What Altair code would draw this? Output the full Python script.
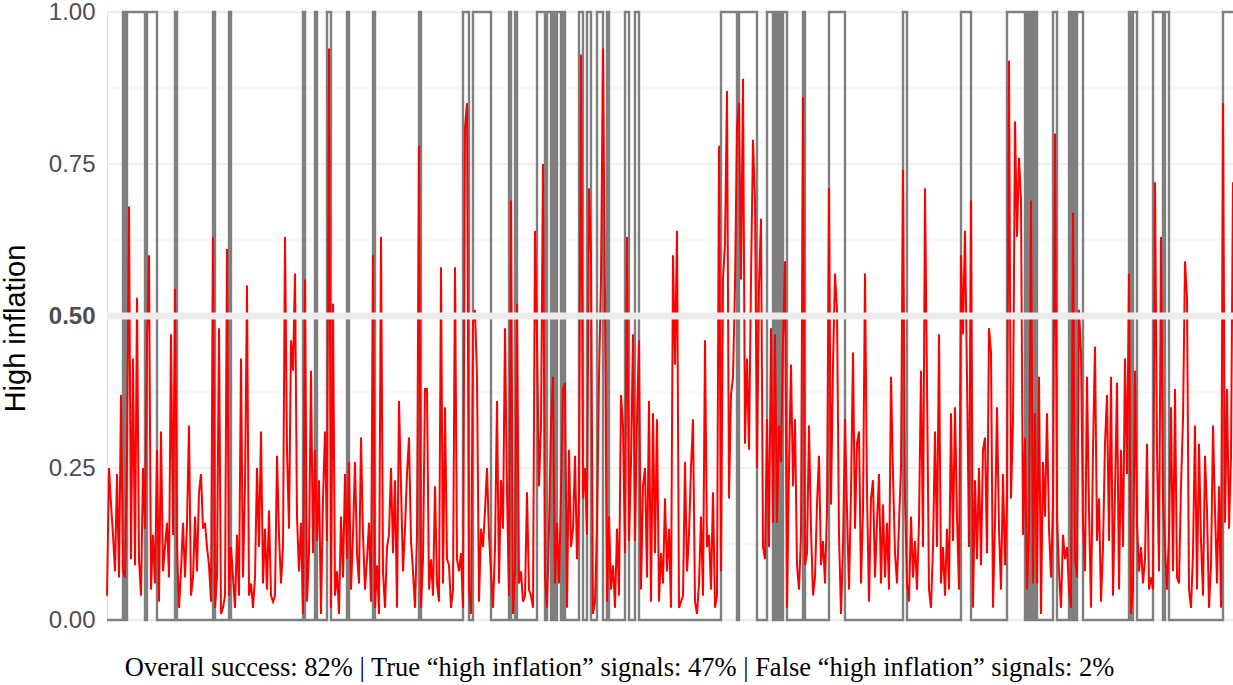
import altair as alt
import pandas as pd

# Predicted probability of "high inflation" (red line), read left to right
red_1 = [0.04,0.25,0.19,0.14,0.08,0.24,0.07,0.37,0.08,0.07,
         0.27,0.68,0.10,0.43,0.09,0.53,0.10,0.04,0.25,0.15,
         0.46,0.60,0.05,0.14,0.06,0.28,0.03,0.31,0.08,0.12,
         0.16,0.07,0.47,0.14,0.545,0.12,0.02,0.08,0.16,0.07,
         0.16,0.32,0.04,0.07,0.17,0.08,0.21,0.24,0.15,0.16,
         0.12,0.09,0.03,0.63,0.02,0.07,0.48,0.01,0.02,0.04,
         0.61,0.04,0.12,0.07,0.02,0.14,0.04,0.43,0.07,0.22,
         0.55,0.04,0.06,0.02,0.07,0.25,0.12,0.31,0.06,0.15]
red_2 = [0.05,0.18,0.04,0.03,0.04,0.27,0.14,0.06,0.12,0.63,
         0.28,0.15,0.46,0.41,0.57,0.17,0.08,0.16,0.01,0.56,
         0.03,0.11,0.41,0.11,0.28,0.13,0.23,0.01,0.20,0.31,
         0.13,0.94,0.02,0.52,0.04,0.08,0.01,0.17,0.07,0.24,
         0.10,0.26,0.05,0.14,0.26,0.11,0.06,0.30,0.14,0.05,
         0.10,0.16,0.03,0.60,0.02,0.09,0.01,0.63,0.08,0.02,
         0.12,0.14,0.25,0.11,0.23,0.02,0.36,0.22,0.08,0.15,
         0.24,0.30,0.13,0.08,0.02,0.14,0.78,0.02,0.10,0.38]
red_3 = [0.38,0.05,0.10,0.04,0.22,0.06,0.03,0.58,0.06,0.35,
         0.10,0.09,0.02,0.05,0.58,0.10,0.08,0.11,0.02,0.81,
         0.85,0.05,0.01,0.49,0.51,0.40,0.03,0.15,0.12,0.18,
         0.25,0.14,0.08,0.02,0.12,0.36,0.06,0.23,0.15,0.48,
         0.21,0.04,0.69,0.01,0.08,0.52,0.06,0.08,0.03,0.04,
         0.21,0.05,0.04,0.02,0.64,0.46,0.22,0.32,0.75,0.07,
         0.02,0.15,0.32,0.40,0.06,0.16,0.06,0.21,0.38,0.39,
         0.02,0.28,0.12,0.15,0.27,0.10,0.20,0.93,0.20,0.25]
red_4 = [0.14,0.71,0.60,0.01,0.03,0.15,0.40,0.56,0.94,0.52,
         0.03,0.17,0.05,0.09,0.02,0.15,0.04,0.37,0.32,0.11,
         0.63,0.13,0.26,0.47,0.13,0.33,0.46,0.05,0.22,0.25,
         0.07,0.36,0.03,0.34,0.11,0.33,0.03,0.11,0.06,0.20,
         0.08,0.15,0.02,0.60,0.42,0.64,0.02,0.03,0.04,0.26,
         0.08,0.14,0.25,0.33,0.03,0.01,0.06,0.17,0.04,0.46,
         0.12,0.14,0.05,0.21,0.02,0.04,0.78,0.08,0.56,0.62,
         0.87,0.20,0.37,0.40,0.55,0.81,0.85,0.56,0.89,0.29]
red_5 = [0.43,0.28,0.56,0.79,0.69,0.25,0.55,0.66,0.12,0.10,
         0.33,0.12,0.48,0.16,0.47,0.16,0.32,0.26,0.46,0.59,
         0.02,0.25,0.42,0.22,0.33,0.09,0.05,0.14,0.86,0.09,
         0.11,0.32,0.15,0.04,0.07,0.19,0.27,0.09,0.13,0.06,
         0.18,0.71,0.19,0.42,0.57,0.51,0.14,0.01,0.12,0.33,
         0.18,0.05,0.21,0.44,0.15,0.29,0.31,0.06,0.18,0.57,
         0.21,0.03,0.20,0.23,0.07,0.16,0.24,0.06,0.19,0.07,
         0.16,0.05,0.40,0.24,0.11,0.06,0.16,0.25,0.74,0.20]
red_6 = [0.06,0.03,0.17,0.07,0.13,0.05,0.16,0.41,0.12,0.71,
         0.39,0.05,0.02,0.12,0.31,0.12,0.47,0.06,0.12,0.04,
         0.15,0.05,0.34,0.13,0.35,0.17,0.05,0.60,0.47,0.64,
         0.40,0.12,0.69,0.02,0.23,0.10,0.25,0.09,0.28,0.30,
         0.11,0.48,0.44,0.02,0.16,0.35,0.15,0.05,0.24,0.09,
         0.20,0.92,0.20,0.33,0.82,0.63,0.76,0.69,0.14,0.30,
         0.05,0.15,0.69,0.06,0.34,0.06,0.40,0.01,0.26,0.17,
         0.34,0.15,0.07,0.19,0.80,0.17,0.08,0.02,0.14,0.10]
red_7 = [0.12,0.05,0.02,0.67,0.10,0.07,0.51,0.44,0.16,0.08,
         0.40,0.18,0.02,0.28,0.45,0.13,0.20,0.03,0.12,0.29,
         0.37,0.13,0.40,0.04,0.21,0.39,0.05,0.28,0.12,0.43,
         0.24,0.57,0.01,0.05,0.41,0.16,0.08,0.12,0.06,0.10,
         0.29,0.05,0.07,0.05,0.72,0.28,0.08,0.63,0.20,0.12,
         0.05,0.14,0.35,0.08,0.38,0.07,0.06,0.22,0.33,0.59,
         0.53,0.05,0.02,0.11,0.32,0.05,0.29,0.13,0.04,0.27,
         0.18,0.02,0.09,0.32,0.18,0.06,0.22,0.02,0.85,0.16,
         0.38,0.15,0.27,0.72]

# Actual high-inflation periods (gray 0/1 line): index ranges [start, end)
gray_on_start = [8, 10, 20, 34, 53, 61, 98, 104, 110, 120, 133, 156, 178, 183,
                 201, 204, 215, 220, 223, 225, 228, 236, 240, 245, 250, 259, 264,
                 307, 316, 330, 334, 336, 338, 348, 361, 398, 427, 450, 460, 462,
                 464, 473, 481, 483, 485, 511, 513, 523, 529, 558]
gray_on_end = [9, 19, 25, 35, 54, 62, 99, 105, 112, 121, 134, 157, 181, 192,
               202, 205, 219, 222, 224, 227, 229, 238, 242, 248, 251, 261, 266,
               315, 325, 333, 335, 337, 340, 349, 369, 400, 432, 459, 461, 463,
               465, 475, 482, 484, 488, 512, 515, 528, 531, 564]

y_ticks = [0, 0.25, 0.5, 0.75, 1.0]
grid_major = [0, 0.25, 0.75, 1.0]
grid_minor = [0.125, 0.375, 0.625, 0.875]
threshold = [0.5]
caption = ("Overall success: 82% | True \u201chigh inflation\u201d signals: 47% | "
           "False \u201chigh inflation\u201d signals: 2%")

red_values = red_1 + red_2 + red_3 + red_4 + red_5 + red_6 + red_7
n = len(red_values)
gray_values = [0] * n
for s, e in zip(gray_on_start, gray_on_end):
    for k in range(s, min(e, n)):
        gray_values[k] = 1

df = pd.DataFrame({"t": list(range(n)), "prob": red_values, "actual": gray_values})
grid_df = pd.DataFrame({"y": grid_major + grid_minor,
                        "w": [1.5] * len(grid_major) + [0.8] * len(grid_minor)})
thr_df = pd.DataFrame({"y": threshold})

xs = alt.X("t:Q", scale=alt.Scale(domain=[0, n - 1], nice=False, zero=False), axis=None)
yscale = alt.Scale(domain=[0, 1], nice=False)

yaxis = alt.Axis(values=y_ticks, format=".2f", grid=False, ticks=False, domain=False,
                 labelFontSize=24, labelColor="#4D4D4D", labelFont="Liberation Sans",
                 labelPadding=12,
                 labelFontWeight={"expr": "datum.value == 0.5 ? 'bold' : 'normal'"},
                 title="High inflation", titleFontSize=29, titleFont="Liberation Sans",
                 titleFontWeight="normal", titleColor="black", titlePadding=18,
                 titleY=316)

grid = alt.Chart(grid_df).mark_rule(color="#EBEBEB").encode(
    y=alt.Y("y:Q", scale=yscale, axis=yaxis, title="High inflation"),
    strokeWidth=alt.StrokeWidth("w:Q", scale=None, legend=None),
)

gray_line = alt.Chart(df).mark_line(color="#7F7F7F", strokeWidth=2.4,
                                    interpolate="step-after").encode(
    x=xs, y=alt.Y("actual:Q", scale=yscale, axis=yaxis, title="High inflation"))

red_line = alt.Chart(df).mark_line(color="#FF0000", strokeWidth=2.0).encode(
    x=xs, y=alt.Y("prob:Q", scale=yscale, axis=yaxis, title="High inflation"))

thr = alt.Chart(thr_df).mark_rule(color="#EBEBEB", strokeWidth=7).encode(
    y=alt.Y("y:Q", scale=yscale, axis=yaxis, title="High inflation"))

chart = alt.layer(grid, gray_line, red_line, thr).properties(
    width=1126, height=608,
    padding={"left": 107, "top": 12, "right": 0, "bottom": 65},
    autosize=alt.AutoSizeParams(type="none"),
    title=alt.TitleParams(caption, orient="bottom", anchor="middle", frame="bounds",
                          font="Liberation Serif", fontSize=26.5, fontWeight="normal",
                          color="black", offset=23),
).configure_view(stroke=None).configure(background="white")

chart.save("out.html", embed_options={"renderer": "svg", "actions": False})
